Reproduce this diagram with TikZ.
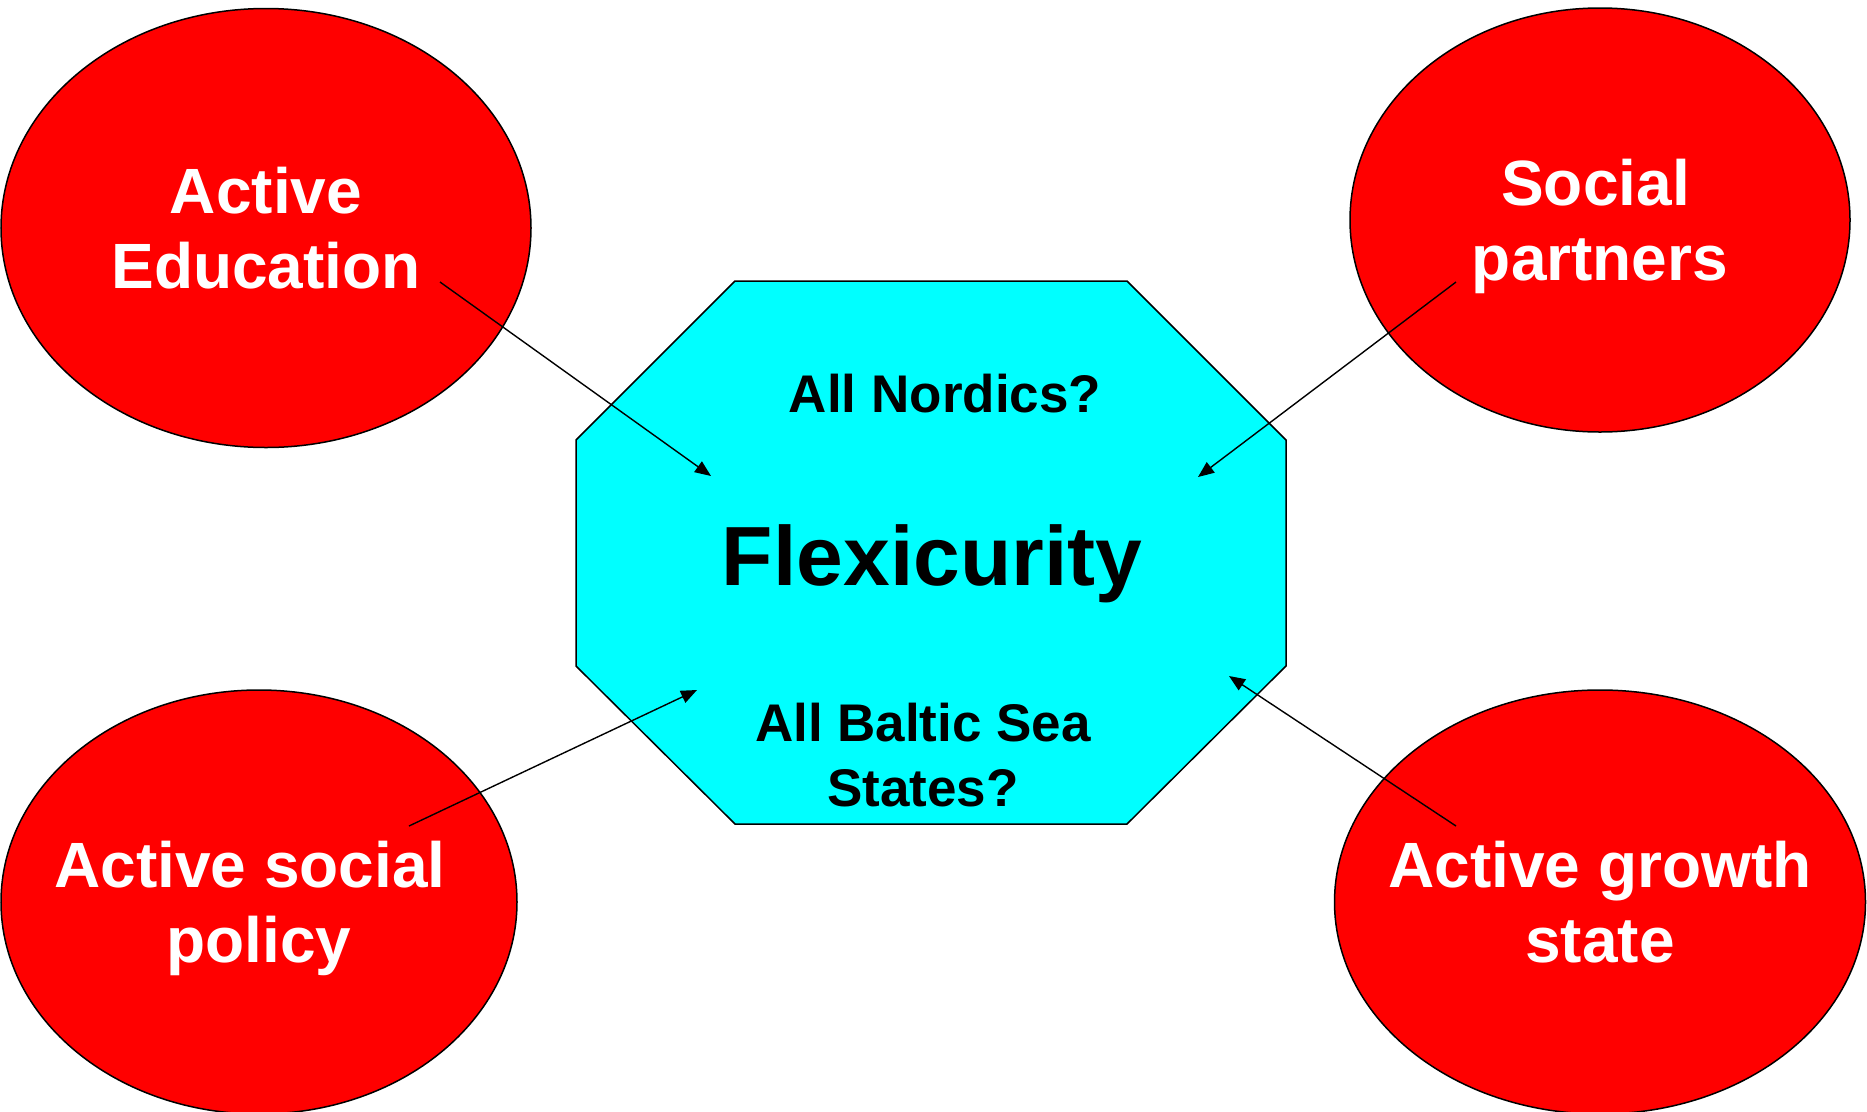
\documentclass[tikz,border=0pt]{standalone}
\usepackage{fontspec}
\setmainfont{Liberation Sans}
\usetikzlibrary{shapes.geometric,arrows.meta}
\definecolor{ovalred}{HTML}{FF0000}
\definecolor{octcyan}{HTML}{00FFFF}
\newcommand{\ovalline}[1]{\makebox[0pt]{\raisebox{0pt}[\height][0pt]{#1}}}
\tikzset{
  oval/.style={ellipse, draw=black, line width=1.5pt, fill=ovalred, inner sep=0pt,
    text=white, align=center, font=\fontsize{64}{75}\selectfont\bfseries},
  octtext/.style={inner sep=0pt, text=black, align=center},
  link/.style={draw=black, line width=1.4pt, -{Triangle[length=16pt,width=13pt]}}
}
\begin{document}
\begin{tikzpicture}[x=1pt,y=-1pt]
\useasboundingbox (0,0) rectangle (1867,1111);
% ovals
\node[oval, minimum width=530pt, minimum height=439pt] (edu) at (266,228)
  {\ovalline{Active}\\\ovalline{Education}};
\node[oval, minimum width=500pt, minimum height=424pt] (soc) at (1600,220)
  {\ovalline{Social\hspace{0.14em}}\\\ovalline{partners}};
\node[oval, minimum width=516pt, minimum height=424pt] (pol) at (259,902)
  {\ovalline{Active social\hspace{0.278em}}\\\ovalline{policy}};
\node[oval, minimum width=531pt, minimum height=424pt] (gro) at (1600,902)
  {\ovalline{Active growth}\\\ovalline{state}};
% octagon
\coordinate (o1) at (735,281);
\coordinate (o2) at (1127,281);
\coordinate (o3) at (1286,440);
\coordinate (o4) at (1286,666);
\coordinate (o5) at (1127,824);
\coordinate (o6) at (735,824);
\coordinate (o7) at (576,666);
\coordinate (o8) at (576,440);
\filldraw[fill=octcyan, draw=black, line width=1.5pt] (o1) -- (o2) -- (o3) -- (o4) -- (o5) -- (o6) -- (o7) -- (o8) -- cycle;
\node[octtext, anchor=base, font=\fontsize{84}{100}\selectfont\bfseries] (flex) at (932,585) {Flexicurity};
\node[octtext, anchor=base, font=\fontsize{53}{65}\selectfont\bfseries] (nord) at (945,412) {All Nordics?};
\node[octtext, font=\fontsize{53}{65}\selectfont\bfseries] (balt) at (923,755) {All Baltic Sea\\States?};
% arrow starts and ends
\coordinate (s1) at (440,282);
\coordinate (e1) at (711,476);
\coordinate (s2) at (1456,282);
\coordinate (e2) at (1198,477);
\coordinate (s3) at (409,826);
\coordinate (e3) at (697,690);
\coordinate (s4) at (1456,826);
\coordinate (e4) at (1229,676);
\draw[link] (s1) -- (e1);
\draw[link] (s2) -- (e2);
\draw[link] (s3) -- (e3);
\draw[link] (s4) -- (e4);
\end{tikzpicture}
\end{document}
